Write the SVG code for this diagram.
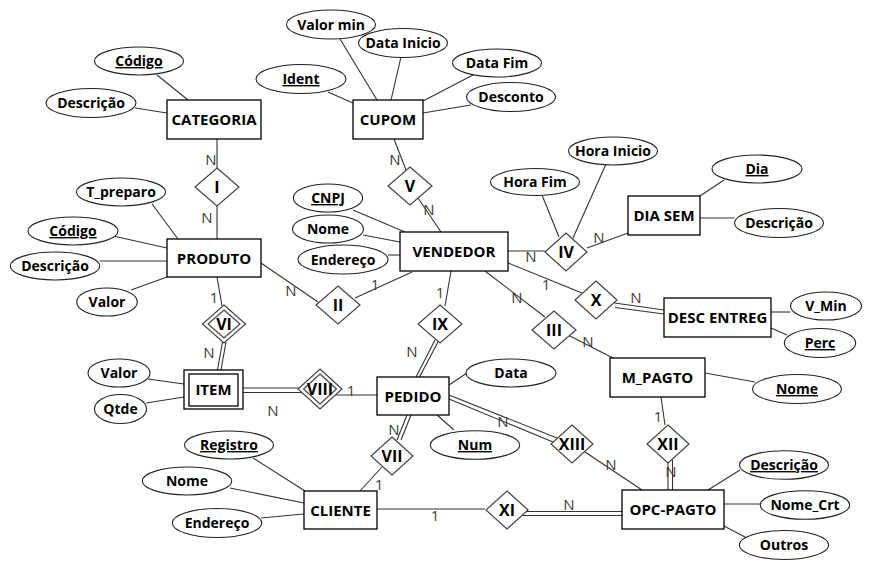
<svg xmlns="http://www.w3.org/2000/svg" width="872" height="570" viewBox="0 0 872 570">
<style>
.e rect{fill:#fff;stroke:#000;stroke-width:1.3}
.r polygon{fill:#fff;stroke:#444;stroke-width:1.2}
.a ellipse{fill:#fff;stroke:#222;stroke-width:1.1}
text{font-family:"Open Sans","Noto Sans","DejaVu Sans",sans-serif;font-weight:700;text-anchor:middle;fill:#000}
.e text{font-size:15px}
.r text{font-size:16px}
.a text{font-size:14px}
.u{text-decoration:underline}
#conn line{stroke:#333;stroke-width:1.1}
.c text{font-weight:400;font-size:15px;fill:#3c3c3c}
</style>
<rect width="872" height="570" fill="#fff"/>
<g id="conn">
<line x1="157" y1="75" x2="188" y2="100"/>
<line x1="135" y1="108" x2="167" y2="113"/>
<line x1="340" y1="39" x2="377" y2="100"/>
<line x1="401" y1="57" x2="391" y2="100"/>
<line x1="473" y1="75" x2="423" y2="101"/>
<line x1="471" y1="105" x2="423" y2="113"/>
<line x1="328" y1="92" x2="353" y2="103"/>
<line x1="394" y1="139" x2="406" y2="170"/>
<line x1="418" y1="198" x2="441" y2="232"/>
<line x1="217" y1="139" x2="217" y2="168"/>
<line x1="217" y1="206" x2="217" y2="239"/>
<line x1="152" y1="204" x2="178" y2="239"/>
<line x1="113" y1="236" x2="167" y2="248"/>
<line x1="99.5" y1="261" x2="167" y2="261"/>
<line x1="131" y1="290" x2="167" y2="277"/>
<line x1="261" y1="263" x2="318" y2="302"/>
<line x1="355" y1="298" x2="412" y2="272"/>
<line x1="217" y1="277" x2="222" y2="306"/>
<line x1="222.5" y1="342" x2="217.5" y2="370"/>
<line x1="226" y1="342" x2="221" y2="370"/>
<line x1="148" y1="379" x2="184" y2="384"/>
<line x1="146" y1="403" x2="184" y2="397"/>
<line x1="243" y1="388" x2="299" y2="388"/>
<line x1="243" y1="392.5" x2="302" y2="392.5"/>
<line x1="335" y1="395" x2="377" y2="395"/>
<line x1="435" y1="340" x2="416" y2="377"/>
<line x1="438.5" y1="341" x2="419.5" y2="377"/>
<line x1="445" y1="306" x2="451" y2="271"/>
<line x1="508" y1="251" x2="545" y2="251"/>
<line x1="587" y1="248" x2="628" y2="233"/>
<line x1="542" y1="195" x2="559" y2="237"/>
<line x1="606" y1="164" x2="573" y2="238"/>
<line x1="508" y1="263" x2="582" y2="293"/>
<line x1="614.5" y1="303" x2="664" y2="310"/>
<line x1="615" y1="307.5" x2="664" y2="314"/>
<line x1="771" y1="312" x2="790.5" y2="312"/>
<line x1="771" y1="328" x2="787" y2="335"/>
<line x1="485" y1="271" x2="545" y2="317"/>
<line x1="568" y1="335" x2="613" y2="358"/>
<line x1="705" y1="373" x2="755" y2="382"/>
<line x1="661" y1="397" x2="665" y2="425"/>
<line x1="668" y1="461" x2="668" y2="490"/>
<line x1="672.5" y1="460" x2="672.5" y2="490"/>
<line x1="585" y1="452" x2="642" y2="490"/>
<line x1="449" y1="395" x2="557" y2="438"/>
<line x1="449" y1="399" x2="553" y2="442"/>
<line x1="467" y1="373" x2="449" y2="385"/>
<line x1="454" y1="430" x2="437" y2="415"/>
<line x1="411" y1="415" x2="401" y2="440"/>
<line x1="407" y1="415" x2="397" y2="440"/>
<line x1="382" y1="467" x2="360" y2="491"/>
<line x1="253" y1="458" x2="305" y2="491"/>
<line x1="230" y1="488" x2="304" y2="503"/>
<line x1="261" y1="518" x2="304" y2="514"/>
<line x1="377" y1="509" x2="485" y2="509"/>
<line x1="526" y1="511.5" x2="622" y2="511.5"/>
<line x1="523" y1="515.5" x2="622" y2="515.5"/>
<line x1="740" y1="470" x2="708" y2="490"/>
<line x1="724" y1="504" x2="760" y2="504"/>
<line x1="724" y1="526" x2="745" y2="537"/>
<line x1="724" y1="180" x2="700" y2="196"/>
<line x1="700" y1="218" x2="734.5" y2="218"/>
<line x1="353" y1="210" x2="405" y2="232"/>
<line x1="363" y1="235" x2="400" y2="242"/>
<line x1="388" y1="255" x2="400" y2="255"/>
<g class="c">
<text x="211" y="165">N</text>
<text x="207" y="223">N</text>
<text x="395" y="165">N</text>
<text x="429" y="215">N</text>
<text x="291" y="296">N</text>
<text x="375" y="290">1</text>
<text x="214" y="303">1</text>
<text x="209" y="358">N</text>
<text x="273" y="416">N</text>
<text x="351" y="396">1</text>
<text x="440" y="298">1</text>
<text x="412" y="357">N</text>
<text x="531" y="262">N</text>
<text x="599" y="243">N</text>
<text x="546" y="290">1</text>
<text x="636" y="303">N</text>
<text x="517" y="303">N</text>
<text x="588" y="347">N</text>
<text x="658" y="422">1</text>
<text x="671" y="477">N</text>
<text x="503" y="427">N</text>
<text x="611" y="470">N</text>
<text x="394" y="435">N</text>
<text x="379" y="490">1</text>
<text x="435" y="521">1</text>
<text x="569" y="510">N</text>
</g>
</g>
<g id="n-categoria" class="e"><rect x="167" y="100" width="94" height="39"/><text x="214" y="125">CATEGORIA</text></g>
<g id="n-cupom" class="e"><rect x="353" y="100" width="70" height="39"/><text x="388" y="125">CUPOM</text></g>
<g id="n-diasem" class="e"><rect x="628" y="196" width="72" height="39"/><text x="664" y="221">DIA SEM</text></g>
<g id="n-descentreg" class="e"><rect x="664" y="298" width="107" height="39"/><text x="717.5" y="323">DESC ENTREG</text></g>
<g id="n-mpagto" class="e"><rect x="610" y="358" width="95" height="39"/><text x="657.5" y="383">M_PAGTO</text></g>
<g id="n-opcpagto" class="e"><rect x="622" y="490" width="102" height="39"/><text x="673" y="515">OPC-PAGTO</text></g>
<g id="n-produto" class="e"><rect x="167" y="239" width="94" height="38"/><text x="214" y="263.5">PRODUTO</text></g>
<g id="n-vendedor" class="e"><rect x="400" y="232" width="108" height="39"/><text x="454" y="257">VENDEDOR</text></g>
<g id="n-item" class="e"><rect x="184" y="370" width="59" height="39"/><rect x="189" y="374" width="49" height="32"/><text x="213.5" y="395">ITEM</text></g>
<g id="n-pedido" class="e"><rect x="377" y="377" width="72" height="38"/><text x="413" y="401.5">PEDIDO</text></g>
<g id="n-cliente" class="e"><rect x="304" y="491" width="73" height="38"/><text x="340.5" y="515.5">CLIENTE</text></g>

<g id="r-i" class="r"><polygon points="217,168 239,187 217,206 195,187"/><text x="217" y="193">I</text></g>
<g id="r-v" class="r"><polygon points="410,167 432,186 410,205 388,186"/><text x="410" y="192">V</text></g>
<g id="r-iv" class="r"><polygon points="566,233 587,252 566,271 545,252"/><text x="566" y="258">IV</text></g>
<g id="r-x" class="r"><polygon points="596,281 617,300 596,319 575,300"/><text x="596" y="306">X</text></g>
<g id="r-ii" class="r"><polygon points="338,286 360,305 338,324 316,305"/><text x="338" y="311">II</text></g>
<g id="r-ix" class="r"><polygon points="440,305 462,324 440,343 418,324"/><text x="440" y="330">IX</text></g>
<g id="r-iii" class="r"><polygon points="554,311 576,330 554,349 532,330"/><text x="554" y="336">III</text></g>
<g id="r-vi" class="r"><polygon points="224,305 245.5,324 224,343 202.5,324"/><polygon points="224,310 240,324 224,338 208,324"/><text x="224" y="330">VI</text></g>
<g id="r-viii" class="r"><polygon points="320,369 342,389 320,409 298,389"/><polygon points="320,374 336.5,389 320,404 303.5,389"/><text x="320" y="395">VIII</text></g>
<g id="r-vii" class="r"><polygon points="392,437 413,456 392,475 371,456"/><text x="392" y="462">VII</text></g>
<g id="r-xiii" class="r"><polygon points="572,425 593,444 572,463 551,444"/><text x="572" y="450">XIII</text></g>
<g id="r-xii" class="r"><polygon points="668,425 689,444 668,463 647,444"/><text x="668" y="450">XII</text></g>
<g id="r-xi" class="r"><polygon points="507,491 528,510 507,529 486,510"/><text x="507" y="516">XI</text></g>

<g id="a-cat-codigo" class="a"><ellipse cx="139" cy="61" rx="44.5" ry="14"/><text class="u" x="139" y="66">Código</text></g>
<g id="a-cat-descricao" class="a"><ellipse cx="91" cy="103" rx="45" ry="14.5"/><text x="91" y="108">Descrição</text></g>
<g id="a-valormin" class="a"><ellipse cx="331" cy="24.5" rx="44.5" ry="14.5"/><text x="331" y="29.5">Valor min</text></g>
<g id="a-datainicio" class="a"><ellipse cx="403" cy="43" rx="44.5" ry="14.5"/><text x="403" y="48">Data Inicio</text></g>
<g id="a-datafim" class="a"><ellipse cx="497" cy="63" rx="44.5" ry="14"/><text x="497" y="68">Data Fim</text></g>
<g id="a-desconto" class="a"><ellipse cx="511" cy="97" rx="44.5" ry="14.5"/><text x="511" y="102">Desconto</text></g>
<g id="a-ident" class="a"><ellipse cx="301" cy="79" rx="45" ry="14.5"/><text class="u" x="301" y="84">Ident</text></g>
<g id="a-horainicio" class="a"><ellipse cx="613" cy="151" rx="44.5" ry="14"/><text x="613" y="156">Hora Inicio</text></g>
<g id="a-horafim" class="a"><ellipse cx="535" cy="182" rx="44.5" ry="13.5"/><text x="535" y="187">Hora Fim</text></g>
<g id="a-dia" class="a"><ellipse cx="757" cy="169" rx="45" ry="14"/><text class="u" x="757" y="174">Dia</text></g>
<g id="a-dia-descricao" class="a"><ellipse cx="779" cy="223" rx="44.5" ry="14.5"/><text x="779" y="228">Descrição</text></g>
<g id="a-vmin" class="a"><ellipse cx="826" cy="306" rx="35.5" ry="14"/><text x="826" y="311">V_Min</text></g>
<g id="a-perc" class="a"><ellipse cx="820" cy="343" rx="35.7" ry="14.5"/><text class="u" x="820" y="348">Perc</text></g>
<g id="a-mp-nome" class="a"><ellipse cx="797" cy="389" rx="44.5" ry="14.5"/><text class="u" x="797" y="394">Nome</text></g>
<g id="a-opc-descricao" class="a"><ellipse cx="784" cy="465" rx="44.5" ry="14.3"/><text class="u" x="784" y="470">Descrição</text></g>
<g id="a-nomecrt" class="a"><ellipse cx="805" cy="505" rx="44.7" ry="14.3"/><text x="805" y="510">Nome_Crt</text></g>
<g id="a-outros" class="a"><ellipse cx="784" cy="545" rx="44.7" ry="14.5"/><text x="784" y="550">Outros</text></g>
<g id="a-tpreparo" class="a"><ellipse cx="121" cy="192" rx="44.5" ry="14"/><text x="121" y="197">T_preparo</text></g>
<g id="a-prod-codigo" class="a"><ellipse cx="73" cy="231" rx="45" ry="14"/><text class="u" x="73" y="236">Código</text></g>
<g id="a-prod-descricao" class="a"><ellipse cx="55" cy="266" rx="44.7" ry="14"/><text x="55" y="271">Descrição</text></g>
<g id="a-prod-valor" class="a"><ellipse cx="107" cy="302" rx="30.3" ry="14"/><text x="107" y="307">Valor</text></g>
<g id="a-cnpj" class="a"><ellipse cx="328" cy="198" rx="34.7" ry="14"/><text class="u" x="328" y="203">CNPJ</text></g>
<g id="a-vend-nome" class="a"><ellipse cx="328" cy="229" rx="35.5" ry="14"/><text x="328" y="234">Nome</text></g>
<g id="a-vend-endereco" class="a"><ellipse cx="343" cy="259.5" rx="45" ry="14.5"/><text x="343" y="264.5">Endereço</text></g>
<g id="a-data" class="a"><ellipse cx="511" cy="373" rx="45" ry="14"/><text x="511" y="378">Data</text></g>
<g id="a-num" class="a"><ellipse cx="475" cy="445" rx="44.7" ry="14.3"/><text class="u" x="475" y="450">Num</text></g>
<g id="a-item-valor" class="a"><ellipse cx="119" cy="373" rx="31" ry="14"/><text x="119" y="378">Valor</text></g>
<g id="a-qtde" class="a"><ellipse cx="120.5" cy="409" rx="26" ry="14.5"/><text x="120.5" y="414">Qtde</text></g>
<g id="a-registro" class="a"><ellipse cx="229" cy="445" rx="44.5" ry="14"/><text class="u" x="229" y="450">Registro</text></g>
<g id="a-cli-nome" class="a"><ellipse cx="187" cy="481" rx="44.7" ry="14"/><text x="187" y="486">Nome</text></g>
<g id="a-cli-endereco" class="a"><ellipse cx="217" cy="523" rx="44.7" ry="14.5"/><text x="217" y="528">Endereço</text></g>
</svg>
